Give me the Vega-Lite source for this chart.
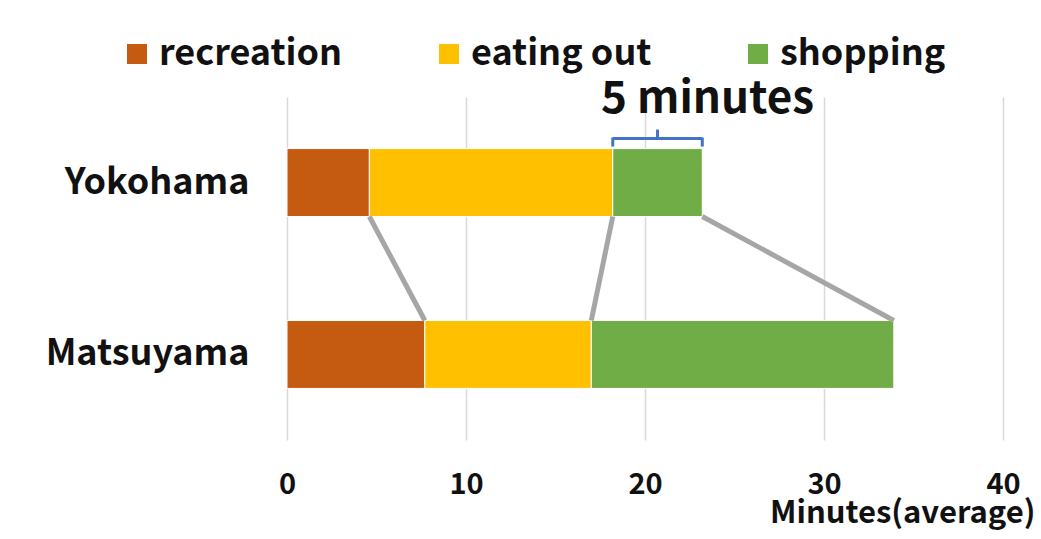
{
  "$schema": "https://vega.github.io/schema/vega-lite/v6.json",
  "autosize": "none",
  "width": 716,
  "height": 343,
  "padding": {"left": 287, "top": 97, "right": 38, "bottom": 99},
  "background": "white",
  "config": {
    "font": "Noto Sans CJK JP",
    "view": {"stroke": null},
    "axis": {"labelColor": "#111111", "titleColor": "#111111", "labelFont": "Noto Sans CJK JP", "titleFont": "Noto Sans CJK JP"},
    "legend": {"labelFont": "Noto Sans CJK JP", "labelColor": "#111111"}
  },
  "data": {
    "values": [
      {"city": "Yokohama", "activity": "recreation", "minutes": 4.6},
      {"city": "Yokohama", "activity": "eating out", "minutes": 13.6},
      {"city": "Yokohama", "activity": "shopping", "minutes": 5},
      {"city": "Matsuyama", "activity": "recreation", "minutes": 7.7},
      {"city": "Matsuyama", "activity": "eating out", "minutes": 9.3},
      {"city": "Matsuyama", "activity": "shopping", "minutes": 16.9}
    ]
  },
  "transform": [
    {"calculate": "indexof(['recreation', 'eating out', 'shopping'], datum.activity)", "as": "seq"},
    {"stack": "minutes", "groupby": ["city"], "sort": [{"field": "seq", "order": "ascending"}], "as": ["start", "end"]}
  ],
  "layer": [
    {
      "mark": {"type": "bar", "stroke": "white", "strokeWidth": 1},
      "encoding": {
        "x": {
          "field": "start",
          "type": "quantitative",
          "scale": {"domain": [0, 40], "nice": false},
          "axis": {
            "values": [0, 10, 20, 30, 40],
            "grid": true,
            "gridColor": "#d9d9d9",
            "gridWidth": 1.5,
            "domain": false,
            "ticks": false,
            "labelFlush": false,
            "labelFontSize": 29,
            "labelFontWeight": "bold",
            "labelPadding": 30,
            "title": "Minutes(average)",
            "titleFontSize": 31,
            "titleFontWeight": "bold",
            "titleAlign": "right",
            "titleAnchor": null,
            "titleBaseline": "alphabetic",
            "titleX": 748,
            "titleY": 82
          }
        },
        "x2": {"field": "end"},
        "y": {
          "field": "city",
          "type": "nominal",
          "sort": ["Yokohama", "Matsuyama"],
          "scale": {"paddingInner": 0.605, "paddingOuter": 0.3},
          "axis": {
            "title": null,
            "domain": false,
            "ticks": false,
            "grid": false,
            "labelLimit": 0,
            "labelFontSize": 36,
            "labelFontWeight": "bold",
            "labelPadding": 38
          }
        },
        "color": {
          "field": "activity",
          "type": "nominal",
          "scale": {"domain": ["recreation", "eating out", "shopping"], "range": ["#C55A11", "#FFC000", "#70AD47"]},
          "legend": {
            "title": null,
            "orient": "none",
            "direction": "horizontal",
            "legendX": -168,
            "legendY": -61,
            "symbolType": "square",
            "symbolSize": 400,
            "symbolStrokeWidth": 0,
            "labelLimit": 0,
            "labelFontSize": 36,
            "labelFontWeight": "bold",
            "labelOffset": 4,
            "columnPadding": 88
          }
        }
      }
    },
    {
      "transform": [{"pivot": "city", "value": "end", "groupby": ["activity"]}],
      "mark": {"type": "rule", "color": "#A6A6A6", "strokeWidth": 5},
      "encoding": {
        "x": {"field": "Yokohama", "type": "quantitative"},
        "x2": {"field": "Matsuyama"},
        "y": {"datum": "Yokohama", "bandPosition": 1},
        "y2": {"datum": "Matsuyama", "bandPosition": 0}
      }
    },
    {
      "transform": [
        {"filter": "datum.city === 'Yokohama' && datum.activity === 'shopping'"},
        {"calculate": "(datum.start + datum.end) / 2", "as": "mid"},
        {"calculate": "datum.minutes + ' minutes'", "as": "label"}
      ],
      "layer": [
        {
          "mark": {"type": "rule", "color": "#4472C4", "strokeWidth": 3, "yOffset": -10},
          "encoding": {
            "x": {"field": "start", "type": "quantitative"},
            "x2": {"field": "end"},
            "y": {"datum": "Yokohama", "bandPosition": 0}
          }
        },
        {
          "transform": [{"fold": ["start", "end"], "as": ["edge", "edgeX"]}],
          "mark": {"type": "rule", "color": "#4472C4", "strokeWidth": 3, "yOffset": -11, "y2Offset": -2},
          "encoding": {
            "x": {"field": "edgeX", "type": "quantitative"},
            "y": {"datum": "Yokohama", "bandPosition": 0},
            "y2": {"datum": "Yokohama", "bandPosition": 0}
          }
        },
        {
          "mark": {"type": "rule", "color": "#4472C4", "strokeWidth": 3, "yOffset": -19, "y2Offset": -10},
          "encoding": {
            "x": {"field": "mid", "type": "quantitative"},
            "y": {"datum": "Yokohama", "bandPosition": 0},
            "y2": {"datum": "Yokohama", "bandPosition": 0}
          }
        },
        {
          "mark": {"type": "text", "font": "Noto Sans CJK JP", "fontWeight": "bold", "fontSize": 44, "color": "#111111", "align": "center", "baseline": "alphabetic", "dx": 50, "dy": -36},
          "encoding": {
            "x": {"field": "mid", "type": "quantitative"},
            "y": {"datum": "Yokohama", "bandPosition": 0},
            "text": {"field": "label"}
          }
        }
      ]
    }
  ]
}
